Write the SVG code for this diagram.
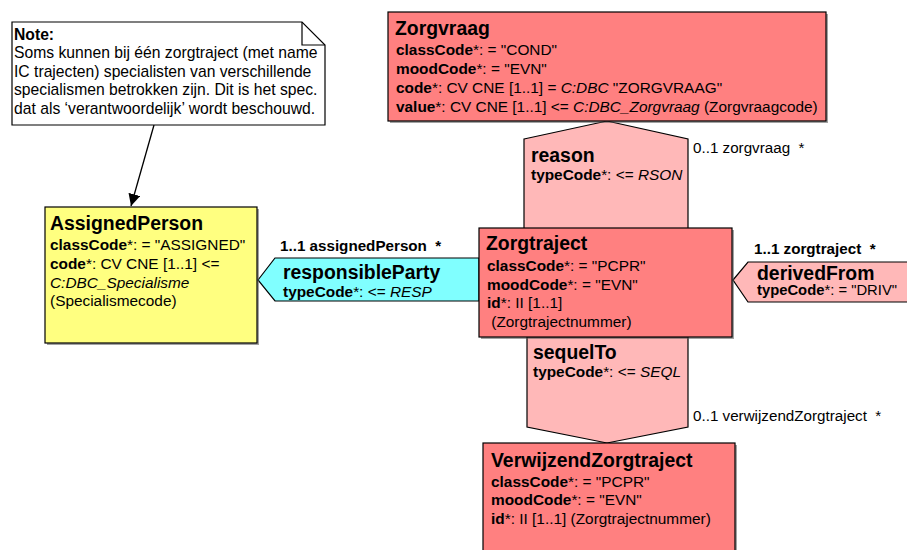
<svg xmlns="http://www.w3.org/2000/svg" width="907" height="550" viewBox="0 0 907 550">
  <style>
    text { font-family: "Liberation Sans", Arial, sans-serif; fill: #000; white-space: pre; }
    .title { font-size: 19.4px; font-weight: bold; }
    .attr { font-size: 15.4px; }
    .tight { font-size: 14.8px; }
    .note { font-size: 15.7px; }
    .lbl { font-size: 15.2px; }
    .b { font-weight: bold; }
    .i { font-style: italic; }
    .box { stroke: #000; stroke-width: 1.2; }
    .shadow { fill: #555; opacity: 0.55; }
    .act { fill: #FF8080; }
    .rel { fill: #FFB8B8; }
    .role { fill: #FFFF80; }
    .part { fill: #80FFFF; }
  </style>
  <defs>
    <marker id="arrow" viewBox="0 0 10 10" refX="10" refY="5" markerWidth="12" markerHeight="12" markerUnits="userSpaceOnUse" orient="auto">
      <path d="M0,0 L10,5 L0,10 z" fill="#000"/>
    </marker>
  </defs>

  <rect width="907" height="550" fill="#fff"/>

  <!-- connectors -->
  <g id="connectors">
    <line x1="154" y1="125" x2="131" y2="206" stroke="#000" stroke-width="1.3" marker-end="url(#arrow)"/>
  </g>

  <!-- reason (Zorgvraag -> Zorgtraject) -->
  <g id="reason">
    <polygon class="rel box" points="524,139 607,121 688,139 688,229 524,229"/>
    <text class="title" x="531" y="162">reason</text>
    <text class="attr" x="531" y="180"><tspan class="b">typeCode</tspan>*: &lt;= <tspan class="i">RSON</tspan></text>
    <text class="lbl" x="693" y="153">0..1 zorgvraag  *</text>
  </g>

  <!-- sequelTo (Zorgtraject -> VerwijzendZorgtraject) -->
  <g id="sequelTo">
    <polygon class="rel box" points="527,337 688,337 688,427 607,443 527,427"/>
    <text class="title" x="533" y="359">sequelTo</text>
    <text class="attr" x="533" y="377"><tspan class="b">typeCode</tspan>*: &lt;= <tspan class="i">SEQL</tspan></text>
    <text class="lbl" x="693" y="421">0..1 verwijzendZorgtraject  *</text>
  </g>

  <!-- responsibleParty (Zorgtraject -> AssignedPerson) -->
  <g id="responsibleParty">
    <polygon class="part box" points="258,280 275,258 479,258 479,301 275,301"/>
    <text class="lbl b" x="280" y="251">1..1 assignedPerson  *</text>
    <text class="title" x="283" y="279">responsibleParty</text>
    <text class="attr" x="283" y="297"><tspan class="b">typeCode</tspan>*: &lt;= <tspan class="i">RESP</tspan></text>
  </g>

  <!-- derivedFrom (Zorgtraject source) -->
  <g id="derivedFrom">
    <polygon class="rel box" points="733,280 748,262 910,262 910,302 748,302"/>
    <text class="lbl b" x="754" y="254">1..1 zorgtraject  *</text>
    <text class="title" x="757" y="280">derivedFrom</text>
    <text class="tight" x="757" y="295"><tspan class="b">typeCode</tspan>*: = "DRIV"</text>
  </g>

  <!-- Zorgvraag act -->
  <g id="Zorgvraag">
    <rect class="shadow" x="390" y="14" width="438" height="109"/>
    <rect class="act box" x="388" y="12" width="438" height="109"/>
    <text class="title" x="395" y="35">Zorgvraag</text>
    <text class="attr" x="396" y="55"><tspan class="b">classCode</tspan>*: = "COND"</text>
    <text class="attr" x="396" y="74"><tspan class="b">moodCode</tspan>*: = "EVN"</text>
    <text class="attr" x="396" y="93"><tspan class="b">code</tspan>*: CV CNE [1..1] = <tspan class="i">C:DBC</tspan> "ZORGVRAAG"</text>
    <text class="attr" x="396" y="112"><tspan class="b">value</tspan>*: CV CNE [1..1] &lt;= <tspan class="i">C:DBC_Zorgvraag</tspan> (Zorgvraagcode)</text>
  </g>

  <!-- Zorgtraject act -->
  <g id="Zorgtraject">
    <rect class="shadow" x="481" y="230" width="253" height="109"/>
    <rect class="act box" x="479" y="228" width="253" height="109"/>
    <text class="title" x="486" y="250">Zorgtraject</text>
    <text class="attr" x="487" y="271"><tspan class="b">classCode</tspan>*: = "PCPR"</text>
    <text class="attr" x="487" y="290"><tspan class="b">moodCode</tspan>*: = "EVN"</text>
    <text class="attr" x="487" y="308"><tspan class="b">id</tspan>*: II [1..1]</text>
    <text class="attr" x="487" y="327"> (Zorgtrajectnummer)</text>
  </g>

  <!-- VerwijzendZorgtraject act -->
  <g id="VerwijzendZorgtraject">
    <rect class="shadow" x="485" y="445" width="252" height="110"/>
    <rect class="act box" x="483" y="443" width="252" height="110"/>
    <text class="title" x="491" y="467">VerwijzendZorgtraject</text>
    <text class="attr" x="491" y="487"><tspan class="b">classCode</tspan>*: = "PCPR"</text>
    <text class="attr" x="491" y="505"><tspan class="b">moodCode</tspan>*: = "EVN"</text>
    <text class="attr" x="491" y="524"><tspan class="b">id</tspan>*: II [1..1] (Zorgtrajectnummer)</text>
  </g>

  <!-- AssignedPerson role -->
  <g id="AssignedPerson">
    <rect class="shadow" x="47" y="209" width="212" height="136"/>
    <rect class="role box" x="45" y="207" width="212" height="136"/>
    <text class="title" x="50" y="230">AssignedPerson</text>
    <text class="attr" x="50" y="250"><tspan class="b">classCode</tspan>*: = "ASSIGNED"</text>
    <text class="attr" x="50" y="269"><tspan class="b">code</tspan>*: CV CNE [1..1] &lt;=</text>
    <text class="attr i" x="50" y="288">C:DBC_Specialisme</text>
    <text class="attr" x="50" y="306">(Specialismecode)</text>
  </g>

  <!-- Note -->
  <g id="Note">
    <polygon points="12,22 302,22 325,45 325,125 12,125" fill="#fff" stroke="#000" stroke-width="1.2"/>
    <polyline points="302,22 302,45 325,45" fill="none" stroke="#000" stroke-width="1.2"/>
    <text class="note b" x="14" y="40">Note:</text>
    <text class="note" x="14" y="58">Soms kunnen bij één zorgtraject (met name</text>
    <text class="note" x="14" y="77">IC trajecten) specialisten van verschillende</text>
    <text class="note" x="14" y="95">specialismen betrokken zijn. Dit is het spec.</text>
    <text class="note" x="14" y="114">dat als ‘verantwoordelijk’ wordt beschouwd.</text>
  </g>
</svg>
